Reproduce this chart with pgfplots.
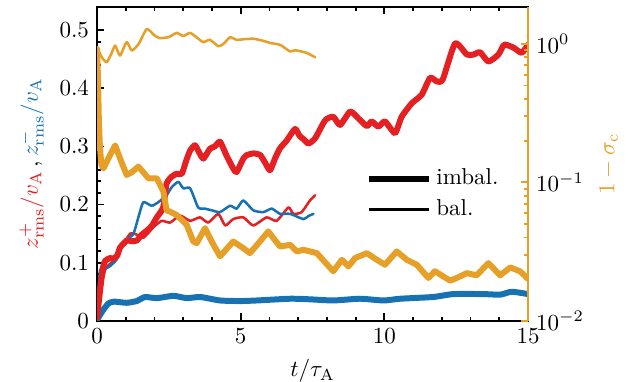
\documentclass[border=0pt]{standalone}
\usepackage{pgfplots}
\pgfplotsset{compat=1.18}
\definecolor{cred}{RGB}{228,32,34}
\definecolor{cblue}{RGB}{22,114,178}
\definecolor{corange}{RGB}{230,160,40}
\pgfplotsset{curve/.style={smooth, tension=0.35, line join=round, line cap=round}}
\begin{document}
\begin{tikzpicture}
\begin{axis}[name=ax1, scale only axis, width=187.4pt, height=136.5pt,
  xmin=0, xmax=15, ymin=0, ymax=0.54,
  xtick={0,5,10,15}, minor x tick num=4,
  ytick={0,0.1,0.2,0.3,0.4,0.5}, minor y tick num=4,
  ytick pos=left, xtick pos=both, tick align=inside,
  axis line style={line width=0.9pt},
  major tick length=3.2pt, minor tick length=1.8pt,
  every tick/.style={black, line width=0.8pt},
  xlabel={$t/\tau_{\mathrm{A}}$},
  ylabel={\textcolor{cred}{$z^+_{\mathrm{rms}}/v_{\mathrm{A}}$}\,,\,\textcolor{cblue}{$z^-_{\mathrm{rms}}/v_{\mathrm{A}}$}},
  yticklabel style={/pgf/number format/fixed},
  legend style={draw=none, fill=none, at={(0.607,0.515)}, anchor=north west, legend cell align=left, row sep=1pt},
  legend image code/.code={\draw[#1] (0pt,0pt) -- (26pt,0pt);},
]
\addlegendimage{black, line width=2.6pt}
\addlegendentry{imbal.}
\addlegendimage{black, line width=1.1pt}
\addlegendentry{bal.}
% thin red (z+ bal)
\addplot[cred, line width=1.1pt, curve, forget plot] coordinates {
(0,0.005)(0.15,0.06)(0.3,0.09)(0.5,0.10)(0.7,0.11)(0.9,0.13)(1.15,0.150)(1.4,0.148)(1.61,0.143)(1.8,0.152)(1.96,0.161)(2.25,0.172)(2.54,0.169)(2.89,0.181)(3.24,0.172)(3.58,0.178)(3.87,0.169)(4.22,0.184)(4.46,0.164)(4.74,0.175)(5.09,0.178)(5.44,0.164)(5.9,0.178)(6.25,0.172)(6.66,0.195)(6.83,0.184)(7.12,0.187)(7.41,0.207)(7.59,0.216)};
% thin blue (z- bal)
\addplot[cblue, line width=1.1pt, curve, forget plot] coordinates {
(0,0.005)(0.1,0.086)(0.3,0.09)(0.45,0.094)(0.69,0.106)(0.85,0.128)(0.97,0.138)(1.26,0.149)(1.45,0.18)(1.61,0.204)(1.9,0.198)(2.13,0.204)(2.42,0.216)(2.6,0.23)(2.83,0.239)(3.0,0.228)(3.24,0.228)(3.52,0.195)(3.75,0.193)(4.0,0.19)(4.28,0.187)(4.63,0.198)(4.86,0.193)(5.09,0.207)(5.44,0.190)(5.79,0.187)(6.08,0.193)(6.37,0.184)(6.72,0.184)(7.18,0.175)(7.35,0.18)(7.53,0.184)};
% thick blue (z- imbal)
\addplot[cblue, line width=2.6pt, curve, forget plot] coordinates {
(0,0.002)(0.22,0.019)(0.4,0.03)(0.6,0.033)(1.03,0.031)(1.38,0.034)(1.67,0.041)(2.08,0.039)(2.66,0.043)(3.12,0.039)(3.59,0.041)(4.28,0.035)(4.98,0.034)(5.56,0.035)(6.72,0.038)(7.41,0.037)(8.22,0.035)(9.15,0.038)(9.97,0.035)(10.55,0.038)(11.7,0.041)(12.4,0.046)(13.45,0.046)(14.03,0.045)(14.43,0.050)(15,0.046)};
% thick red (z+ imbal)
\addplot[cred, line width=2.6pt, curve, forget plot] coordinates {
(0,0.005)(0.1,0.05)(0.2,0.09)(0.28,0.103)(0.45,0.108)(0.56,0.107)(0.7,0.112)(0.8,0.126)(1.03,0.138)(1.2,0.137)(1.38,0.138)(1.55,0.148)(1.73,0.155)(1.9,0.163)(2.08,0.178)(2.3,0.195)(2.42,0.236)(2.6,0.248)(2.77,0.253)(2.95,0.253)(3.1,0.275)(3.24,0.293)(3.41,0.302)(3.55,0.290)(3.7,0.279)(3.93,0.296)(4.1,0.300)(4.28,0.308)(4.5,0.285)(4.74,0.262)(4.86,0.256)(5.09,0.279)(5.21,0.285)(5.45,0.288)(5.68,0.285)(5.85,0.272)(6.02,0.259)(6.2,0.28)(6.37,0.297)(6.6,0.31)(6.89,0.330)(7.05,0.318)(7.2,0.312)(7.36,0.305)(7.59,0.314)(7.94,0.345)(8.22,0.351)(8.46,0.337)(8.81,0.360)(9.1,0.348)(9.39,0.335)(9.56,0.343)(9.79,0.334)(10.02,0.343)(10.37,0.323)(10.6,0.351)(10.95,0.374)(11.3,0.389)(11.59,0.418)(11.82,0.412)(12.03,0.415)(12.46,0.477)(12.87,0.458)(13.1,0.458)(13.33,0.462)(13.62,0.446)(13.97,0.458)(14.17,0.475)(14.49,0.470)(14.78,0.461)(15.0,0.475)};
\end{axis}
\begin{axis}[scale only axis, width=187.4pt, height=136.5pt,
  xmin=0, xmax=15, ymode=log, ymin=0.01, ymax=1.85,
  hide x axis, axis y line*=right,
  y axis line style={corange, line width=0.9pt},
  ytick={0.01,0.1,1}, tick align=inside,
  major tick length=3.2pt, minor tick length=1.8pt,
  every tick/.style={corange, line width=0.8pt},
  yticklabel style={black},
  ylabel={$1-\sigma_{\mathrm{c}}$}, ylabel style={corange},
]
% thin orange (bal)
\addplot[corange, line width=1.1pt, curve] coordinates {
(0,0.95)(0.1,0.85)(0.2,0.78)(0.34,0.738)(0.5,0.85)(0.63,0.973)(0.8,0.824)(1.03,1.03)(1.21,0.895)(1.45,1.0)(1.73,1.28)(2.0,1.15)(2.19,1.10)(2.5,1.12)(2.77,1.20)(3.0,1.14)(3.24,1.20)(3.5,1.10)(3.7,1.03)(3.93,1.07)(4.22,0.962)(4.4,1.0)(4.63,1.117)(4.86,1.07)(5.1,1.08)(5.44,1.09)(5.8,1.05)(6.02,1.016)(6.37,0.984)(6.72,0.881)(6.9,0.9)(7.3,0.86)(7.59,0.80)};
% thick orange (imbal)
\addplot[corange, line width=2.6pt, line join=round, line cap=round] coordinates {
(0,0.92)(0.03,0.6)(0.06,0.3)(0.1,0.18)(0.15,0.135)(0.22,0.126)(0.4,0.15)(0.63,0.185)(0.8,0.149)(1.03,0.113)(1.2,0.118)(1.44,0.130)(1.79,0.107)(2.08,0.107)(2.31,0.0857)(2.42,0.063)(2.77,0.0582)(3.12,0.0493)(3.35,0.0374)(3.47,0.0364)(3.76,0.0467)(4.0,0.037)(4.22,0.0308)(4.28,0.0292)(4.74,0.0374)(5.09,0.0335)(5.32,0.0308)(5.6,0.036)(5.96,0.0442)(6.14,0.0395)(6.37,0.0344)(6.72,0.0354)(6.95,0.0317)(7.18,0.0326)(7.65,0.0308)(8.22,0.0228)(8.52,0.0276)(8.75,0.0247)(8.98,0.0284)(9.39,0.0308)(9.74,0.0276)(10.02,0.0254)(10.43,0.0317)(10.78,0.0276)(11.13,0.0254)(11.53,0.0204)(11.76,0.0228)(12.29,0.0195)(12.52,0.0204)(12.87,0.0221)(13.21,0.0213)(13.62,0.0261)(14.03,0.0213)(14.38,0.0243)(14.72,0.0228)(15,0.0201)};
\end{axis}
\pgfresetboundingbox
\path[use as bounding box] ([xshift=-42.2pt,yshift=-26.5pt]ax1.south west) rectangle ([xshift=43.9pt,yshift=3pt]ax1.north east);
\end{tikzpicture}
\end{document}
